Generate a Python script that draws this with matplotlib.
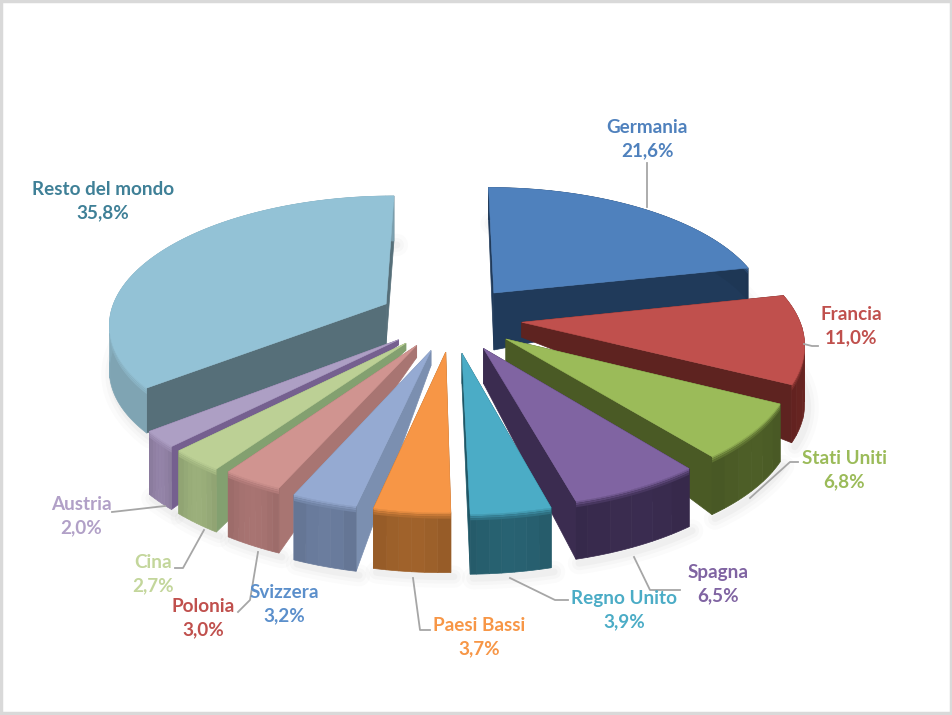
import numpy as np
import matplotlib
matplotlib.use('Agg')
import matplotlib.pyplot as plt
from matplotlib.colors import to_rgb
from matplotlib.patches import Polygon, Rectangle

# Quote per paese, in ordine orario
paesi = ['Germania', 'Francia', 'Stati Uniti', 'Spagna', 'Regno Unito', 'Paesi Bassi',
         'Svizzera', 'Polonia', 'Cina', 'Austria', 'Resto del mondo']
quote = [21.6, 11.0, 6.8, 6.5, 3.9, 3.7, 3.2, 3.0, 2.7, 2.0, 35.8]
etichette = ['21,6%', '11,0%', '6,8%', '6,5%', '3,9%', '3,7%', '3,2%', '3,0%', '2,7%', '2,0%', '35,8%']

# Colori: superficie, parete esterna, faccia laterale, testo
col_top = ['#4F81BD', '#C0504D', '#9BBB59', '#8064A2', '#4BACC6', '#F79646',
           '#95AAD2', '#D09490', '#BCD095', '#AD9FC4', '#93C2D6']
col_wall = ['#203A5A', '#6A2522', '#4D5E27', '#3A2C50', '#286272', '#A0622B',
            '#6B7D9E', '#A87472', '#9BAF7B', '#9484A8', '#86AEBE']
col_side = ['#203A5A', '#5E2320', '#4A5A25', '#3B2C50', '#1F5766', '#A0622B',
            '#7B8FB0', '#A87572', '#83A070', '#75608F', '#566F79']
col_text = ['#4F81BD', '#C0504D', '#9BBB59', '#8064A2', '#4BACC6', '#F79646',
            '#5B8FCB', '#C0504D', '#C3D69B', '#B1A0C7', '#3F8097']

# Esplosione, spostamento orizzontale e altezze delle pareti (apice, bordo)
esplosione = [0.26, 0.26, 0.255, 0.26, 0.27, 0.26, 0.26, 0.24, 0.25, 0.25, 0.26]
sposta_x = [0, 0, 0, 0, 1, 3, 4, 0, 1, 1, 0]
alt_apice = [57, 15, 22, 35, 30, 30, 15, 12, 7, 5, 40]
alt_bordo = [32, 58, 58, 58, 60, 60, 65, 65, 63, 63, 45]
ordine = [0, 10, 1, 9, 8, 2, 7, 6, 3, 5, 4]

# Etichette e linee guida
pos_etichette = [(647, 139), (851, 326), (844, 470), (718, 584), (624, 610), (479, 637),
                 (284, 604), (203, 618), (153, 574), (81, 516), (103, 201)]
linee = [[(647, 163), (647, 207)], [(804, 344), (812, 346), (818, 346)],
         [(750, 498), (790, 462), (798, 462)], [(634, 557), (650, 590), (680, 590)],
         [(510, 578), (555, 600), (568, 600)], [(413, 578), (420, 630), (430, 630)],
         [(258, 552), (250, 600), (238, 612)], [(204, 530), (183, 568), (175, 568)],
         [(165, 506), (112, 512)]]

cx, cy = 450, 318
rx, ry = 277, 127
k = 0.142


def proietta(x, y):
    d = 1 + k * y
    return cx + rx * x / d, cy - ry * y / d


def mescola(c1, c2, t):
    a, b = np.array(to_rgb(c1)), np.array(to_rgb(c2))
    return tuple(a + (b - a) * t)


fig = plt.figure(figsize=(9.52, 7.15), dpi=100)
ax = fig.add_axes([0, 0, 1, 1])
ax.set_xlim(0, 952)
ax.set_ylim(715, 0)
ax.axis('off')
ax.add_patch(Rectangle((1, 1), 949.5, 712, fill=False, ec='#D9D9D9', lw=2.5))

tot = sum(quote)
bordi = np.cumsum([0] + quote) / tot * 2 * np.pi

geo = []
for i in range(len(quote)):
    a0, a1 = bordi[i], bordi[i + 1]
    m = (a0 + a1) / 2
    ax0, ay0 = esplosione[i] * np.sin(m), esplosione[i] * np.cos(m)
    t = np.linspace(a0, a1, max(int(np.degrees(a1 - a0)), 8))
    xs = ax0 + np.sin(t)
    ys = ay0 + np.cos(t)
    px, py = proietta(xs, ys)
    apx, apy = proietta(ax0, ay0)
    px = px + sposta_x[i]
    apx = apx + sposta_x[i]
    geo.append((px, py, apx, apy))

    # ombra morbida sotto il bordo
    for lw, al in [(16, 0.03), (10, 0.04), (5, 0.05)]:
        ax.plot(px + 3, py + alt_bordo[i] + 4, color='#808080', lw=lw, alpha=al, zorder=1,
                solid_capstyle='round')

z = 2
for i in ordine:
    px, py, apx, apy = geo[i]
    h0, h1 = alt_apice[i], alt_bordo[i]
    # facce laterali
    for j in (0, -1):
        ax.add_patch(Polygon([(apx, apy), (px[j], py[j]), (px[j], py[j] + h1), (apx, apy + h0)],
                             closed=True, fc=col_side[i], ec=col_side[i], lw=0.5, zorder=z))
    z += 1
    # parete esterna a bande larghe, con il passaggio morbido verso il bordo
    n = len(px)
    passo = max(1, (n - 1) // 5)
    for j in range(0, n - 1, passo):
        e = min(j + passo, n - 1)
        lum = 0.92 + 0.08 * np.sin(np.pi * (j + e) / 2 / (n - 1))
        base = mescola('#000000', col_wall[i], lum)
        tx, ty = px[j:e + 1], py[j:e + 1]
        ax.fill(np.r_[tx, tx[::-1]], np.r_[ty, ty[::-1] + h1], fc=base, ec=base, lw=0.5, zorder=z)
    for t0, t1, c in [(0.0, 2.0, mescola(col_top[i], col_wall[i], 0.25)),
                      (2.0, 4.0, mescola(col_top[i], col_wall[i], 0.55)),
                      (4.0, 6.0, mescola(col_top[i], col_wall[i], 0.8))]:
        ax.fill(np.r_[px, px[::-1]], np.r_[py + t0, py[::-1] + t1], fc=c, ec='none', zorder=z)
    z += 1
    ax.add_patch(Polygon(np.c_[np.r_[apx, px], np.r_[apy, py]], closed=True,
                         fc=col_top[i], ec=col_top[i], lw=0.4, zorder=z))
    z += 1

for ln in linee:
    xy = np.array(ln)
    ax.plot(xy[:, 0], xy[:, 1], color='#A6A6A6', lw=1.3, zorder=z)

for i, nome in enumerate(paesi):
    ax.text(pos_etichette[i][0], pos_etichette[i][1], nome + '\n' + etichette[i], color=col_text[i],
            family='Lato', weight='bold', fontsize=13.6, ha='center', va='center', linespacing=1.48,
            zorder=z + 1)

fig.savefig('out.png', dpi=100)
